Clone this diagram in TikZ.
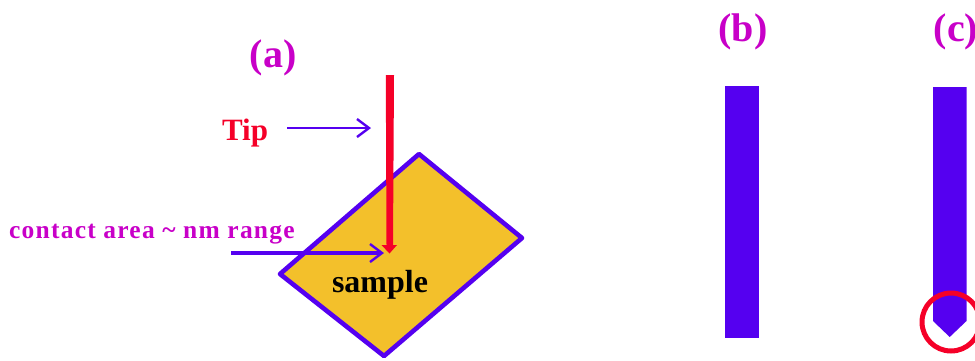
\documentclass[tikz,border=0pt]{standalone}
\usepackage{fontspec}
\setmainfont{Liberation Serif}
\usetikzlibrary{arrows.meta}
\definecolor{vio}{HTML}{5500F0}
\definecolor{tipred}{HTML}{F50028}
\definecolor{mag}{HTML}{C800C8}
\definecolor{gold}{HTML}{F3C02B}
\tikzset{
  x=1pt,y=-1pt,
  lab/.style={inner sep=0pt,font=\bfseries\fontsize{40}{42}\selectfont,text=mag},
  open/.style={draw=vio,-{Straight Barb[length=12pt,width=18pt,line width=2.4pt]}},
  bar/.style={fill=vio,draw=none}
}
\begin{document}
\begin{tikzpicture}
\useasboundingbox (0,0) rectangle (975,360);
% sample
\draw[draw=vio,line width=4.6pt,fill=gold,line join=round] (419,154) -- (522,238) -- (384,356) -- (280,274) -- cycle;
\node[inner sep=0pt,font=\bfseries\fontsize{32}{34}\selectfont] (sample) at (380,285) {sample};
% tip
\fill[tipred] (385.8,75) -- (394,75) -- (393,245) -- (397,245) -- (389.5,253.5) -- (381.5,245) -- (386.5,245) -- cycle;
\node[lab] (a) at (273,58) {(a)};
\node[lab] (b) at (743,32) {(b)};
\node[lab] (c) at (956,32) {(c)};
\node[inner sep=0pt,text=tipred,font=\bfseries\fontsize{31}{33}\selectfont] (tiplabel) at (245,133) {Tip};
\node[inner sep=0pt,text=mag,font=\bfseries\fontsize{25.5}{27}\selectfont,anchor=west] (contact) at (9,234) {\addfontfeatures{LetterSpace=4.8}contact area \textasciitilde{} nm range};
\coordinate (t1) at (287,128); \coordinate (t2) at (371,128);
\coordinate (c1) at (231,253); \coordinate (c2) at (384,253);
\draw[open,line width=2.4pt] (t1) -- (t2);
\draw[open,line width=4pt] (c1) -- (c2);
% probes
\fill[bar] (725,86) rectangle (759,338);
\fill[bar] (933,87) -- (966.5,87) -- (966.5,321) -- (949.7,337) -- (933,321) -- cycle;
\node[circle,draw=tipred,line width=5pt,minimum size=58pt,inner sep=0pt] (ring) at (951,322) {};
\end{tikzpicture}
\end{document}
